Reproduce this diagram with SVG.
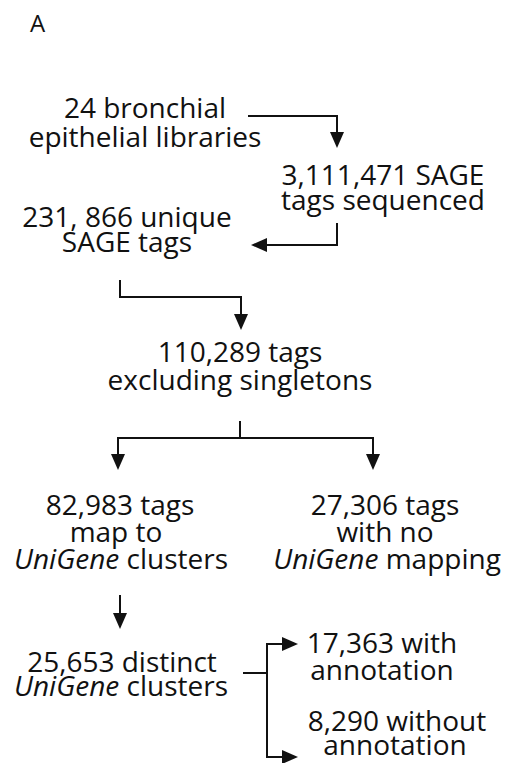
<svg xmlns="http://www.w3.org/2000/svg" width="510" height="763" viewBox="0 0 510 763">
<style>
.t{font-family:"Open Sans","Liberation Sans",sans-serif;font-size:28px;fill:#111;text-anchor:middle}
.i{font-style:italic}
.c{fill:none;stroke:#111;stroke-width:2}
</style>
<defs>
<marker id="ah" viewBox="0 0 16 14" refX="0" refY="7" markerWidth="16" markerHeight="14" markerUnits="userSpaceOnUse" orient="auto">
<path d="M0,0 L16,7 L0,14 Z" fill="#111"/>
</marker>
</defs>
<rect width="510" height="763" fill="#fff"/>
<text x="30" y="32" style="font-family:'Open Sans','Liberation Sans',sans-serif;font-size:24px;fill:#111">A</text>
<g id="n1"><text class="t" x="145" y="118">24 bronchial</text><text class="t" x="145" y="147">epithelial libraries</text></g>
<g id="n2"><text class="t" x="383" y="185">3,111,471 SAGE</text><text class="t" x="383" y="210">tags sequenced</text></g>
<g id="n3"><text class="t" x="127" y="227">231, 866 unique</text><text class="t" x="127" y="252">SAGE tags</text></g>
<g id="n4"><text class="t" x="240" y="362">110,289 tags</text><text class="t" x="240" y="390">excluding singletons</text></g>
<g id="n5"><text class="t" x="120" y="515">82,983 tags</text><text class="t" x="116" y="542">map to</text><text class="t" x="121" y="569"><tspan class="i">UniGene</tspan> clusters</text></g>
<g id="n6"><text class="t" x="385" y="515">27,306 tags</text><text class="t" x="385" y="542">with no</text><text class="t" x="387" y="569"><tspan class="i">UniGene</tspan> mapping</text></g>
<g id="n7"><text class="t" x="122" y="672">25,653 distinct</text><text class="t" x="121" y="696"><tspan class="i">UniGene</tspan> clusters</text></g>
<g id="n8"><text class="t" x="382" y="653">17,363 with</text><text class="t" x="382" y="680">annotation</text></g>
<g id="n9"><text class="t" x="397" y="731">8,290 without</text><text class="t" x="395" y="755">annotation</text></g>
<g id="connectors">
<path class="c" d="M248,116 H337 V132" marker-end="url(#ah)"/>
<path class="c" d="M337,223 V245 H267" marker-end="url(#ah)"/>
<path class="c" d="M120,280 V297 H241 V314" marker-end="url(#ah)"/>
<path class="c" d="M240,421 V438"/>
<path class="c" d="M241,438 H118 V454" marker-end="url(#ah)"/>
<path class="c" d="M239,438 H373 V454" marker-end="url(#ah)"/>
<path class="c" d="M120,595 V613" marker-end="url(#ah)"/>
<path class="c" d="M243,673 H267"/>
<path class="c" d="M267,673 V644 H282" marker-end="url(#ah)"/>
<path class="c" d="M267,673 V757 H282" marker-end="url(#ah)"/>
</g>
</svg>
